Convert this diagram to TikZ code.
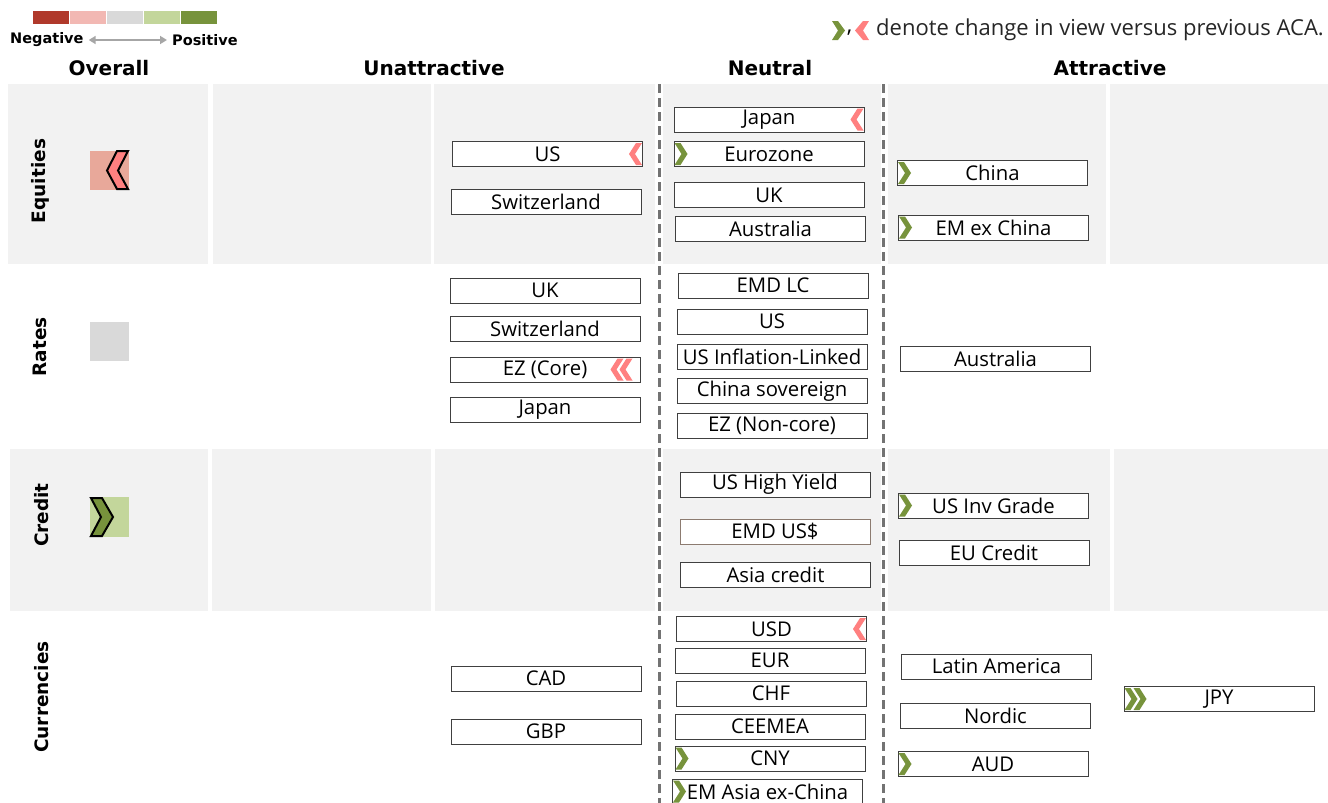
\documentclass[tikz,border=0pt]{standalone}
\usepackage{fontspec}
\setmainfont{Open Sans}
\newfontfamily\headfont{DejaVu Sans}
\usetikzlibrary{arrows.meta}
\definecolor{panelgray}{HTML}{F2F2F2}
\definecolor{negdark}{HTML}{B0392B}
\definecolor{negpale}{HTML}{F2B8B3}
\definecolor{neutgray}{HTML}{D9D9D9}
\definecolor{pospale}{HTML}{C3D69B}
\definecolor{posdark}{HTML}{77933C}
\definecolor{chgpink}{HTML}{FF8080}
\definecolor{overpink}{HTML}{E8A89A}
\definecolor{boxline}{HTML}{404040}
\definecolor{emdline}{HTML}{8C7B70}
\newcommand{\upmark}[2][0]{\fill[posdark] ([xshift=#1pt]#2.west) ++(1,-11) -- ++(6,0) -- ++(7,11) -- ++(-7,11) -- ++(-6,0) -- ++(7,-11) -- cycle;}
\newcommand{\downmark}[2][0]{\fill[chgpink] ([xshift=-#1pt]#2.east) ++(-1,-11) -- ++(-6,0) -- ++(-7,11) -- ++(7,11) -- ++(6,0) -- ++(-7,-11) -- cycle;}

\begin{document}
\begin{tikzpicture}[x=1pt,y=-1pt,
  assetbox/.style={draw=boxline,fill=white,line width=1pt,minimum width=190pt,
    minimum height=25pt,inner sep=0pt,font=\fontsize{20.3}{22}\selectfont},
  colhead/.style={font=\headfont\bfseries\fontsize{20}{22}\selectfont},
  rowlabel/.style={rotate=90,font=\headfont\bfseries\fontsize{18.5}{20}\selectfont},
  legtext/.style={font=\headfont\bfseries\fontsize{14.5}{16}\selectfont,inner sep=0pt},
  splitline/.style={draw=black!55,line width=3pt,dash pattern=on 9pt off 5pt}]
  \useasboundingbox (0,0) rectangle (1328,803);

  %grey panels of equities and credit rows
  \foreach \a/\b in {8/208,213/431,434/655,663/881,888/1106,1110/1328}
    \fill[panelgray] (\a,84) rectangle (\b,264);
  \foreach \a/\b in {10/208,212/431,435/655,663/881,888/1110,1114/1328}
    \fill[panelgray] (\a,449) rectangle (\b,611);

  %neutral column borders
  \draw[splitline] (659,84) -- (659,803);
  \draw[splitline] (883,84) -- (883,803);

  %colour scale
  \foreach \c [count=\i from 0] in {negdark,negpale,neutgray,pospale,posdark}
    \fill[\c] (33+37*\i,11) rectangle (69+37*\i,24);
  \node[legtext,anchor=west] (neg) at (10,40) {Negative};
  \node[legtext,anchor=west] (pos) at (172,40) {Positive};
  \draw[black!35,line width=2pt,{Triangle[length=7pt,width=8pt]}-{Triangle[length=7pt,width=8pt]}]
    ([xshift=5pt]neg.east) -- ([xshift=-5pt]pos.west);

  %change markers note
  \fill[posdark] (832,21) -- (838,21) -- (845,30.5) -- (838,40) -- (832,40) -- (838,30.5) -- cycle;
  \fill[chgpink] (869,21) -- (863,21) -- (855,30.5) -- (863,40) -- (869,40) -- (863,30.5) -- cycle;
  \node[font=\fontsize{22}{24}\selectfont,inner sep=0pt] (comma) at (849.5,33) {,};
  \node[font=\fontsize{22}{24}\selectfont,inner sep=0pt,anchor=west,text=black!85] (note) at (876,30)
    {denote change in view versus previous ACA.};

  %column headers
  \node[colhead] (hOverall) at (109,68) {Overall};
  \node[colhead] (hUnattr) at (434,68) {Unattractive};
  \node[colhead] (hNeutral) at (770,68) {Neutral};
  \node[colhead] (hAttr) at (1110,68) {Attractive};

  %row labels
  \node[rowlabel] (lEquities) at (40,181) {Equities};
  \node[rowlabel] (lRates) at (40,347) {Rates};
  \node[rowlabel] (lCredit) at (42,515) {Credit};
  \node[rowlabel] (lCurrencies) at (42,697) {Currencies};

  %overall views
  \fill[overpink] (90,151) rectangle (129,190);
  \draw[fill=chgpink,line width=2pt,line join=miter] (117,151) -- (128,151) -- (118,170.5)
    -- (128,189) -- (117,189) -- (107,170.5) -- cycle;
  \fill[neutgray] (90,322) rectangle (129,361);
  \fill[pospale] (90,497) rectangle (129,537);
  \draw[fill=posdark,line width=2pt,line join=miter] (91,498) -- (102,498) -- (113,517)
    -- (102,536) -- (91,536) -- (101,517) -- cycle;

  %equities
  \node[assetbox] (eqUS) at (547.5,154) {US};
  \node[assetbox] (eqSwiss) at (546,202) {Switzerland};
  \node[assetbox] (eqJapan) at (769,119.5) {Japan};
  \node[assetbox] (eqEuro) at (769,154) {Eurozone};
  \node[assetbox] (eqUK) at (769,195) {UK};
  \node[assetbox] (eqAus) at (770.5,229) {Australia};
  \node[assetbox] (eqChina) at (992.5,173) {China};
  \node[assetbox] (eqEM) at (993.5,227.5) {EM ex China};
  \downmark{eqUS}
  \downmark{eqJapan}
  \upmark{eqEuro}
  \upmark{eqChina}
  \upmark{eqEM}

  %rates
  \node[assetbox] (rtUK) at (545,290.5) {UK};
  \node[assetbox] (rtSwiss) at (545,328.5) {Switzerland};
  \node[assetbox] (rtEZ) at (545,369.5) {EZ (Core)};
  \node[assetbox] (rtJapan) at (545,409.5) {Japan};
  \node[assetbox] (rtEMD) at (773,285.5) {EMD LC};
  \node[assetbox] (rtUS) at (772,321.5) {US};
  \node[assetbox] (rtLinked) at (772,357) {US Inflation-Linked};
  \node[assetbox] (rtChina) at (772,391) {China sovereign};
  \node[assetbox] (rtEZnc) at (772,425.5) {EZ (Non-core)};
  \node[assetbox] (rtAus) at (995.5,358.5) {Australia};
  \downmark[7]{rtEZ}
  \downmark[16]{rtEZ}

  %credit
  \node[assetbox] (crHY) at (775,484.5) {US High Yield};
  \node[assetbox,draw=emdline] (crEMD) at (775,531.5) {EMD US\$};
  \node[assetbox] (crAsia) at (775.5,575) {Asia credit};
  \node[assetbox] (crIG) at (993.5,505.5) {US Inv Grade};
  \node[assetbox] (crEU) at (994,553) {EU Credit};
  \upmark{crIG}

  %currencies
  \node[assetbox] (fxCAD) at (546,678.5) {CAD};
  \node[assetbox] (fxGBP) at (546,731.5) {GBP};
  \node[assetbox] (fxUSD) at (771.5,629) {USD};
  \node[assetbox] (fxEUR) at (770,660.5) {EUR};
  \node[assetbox] (fxCHF) at (771,693.5) {CHF};
  \node[assetbox] (fxCEE) at (770,726.5) {CEEMEA};
  \node[assetbox] (fxCNY) at (770,758.5) {CNY};
  \node[assetbox] (fxEMA) at (767.5,791.5) {EM Asia ex-China};
  \node[assetbox] (fxLatam) at (996.5,666.5) {Latin America};
  \node[assetbox] (fxNordic) at (995.5,716) {Nordic};
  \node[assetbox] (fxAUD) at (993,764) {AUD};
  \node[assetbox] (fxJPY) at (1219,699) {JPY};
  \downmark{fxUSD}
  \upmark{fxCNY}
  \upmark{fxEMA}
  \upmark{fxAUD}
  \upmark{fxJPY}
  \upmark[9]{fxJPY}
\end{tikzpicture}
\end{document}
